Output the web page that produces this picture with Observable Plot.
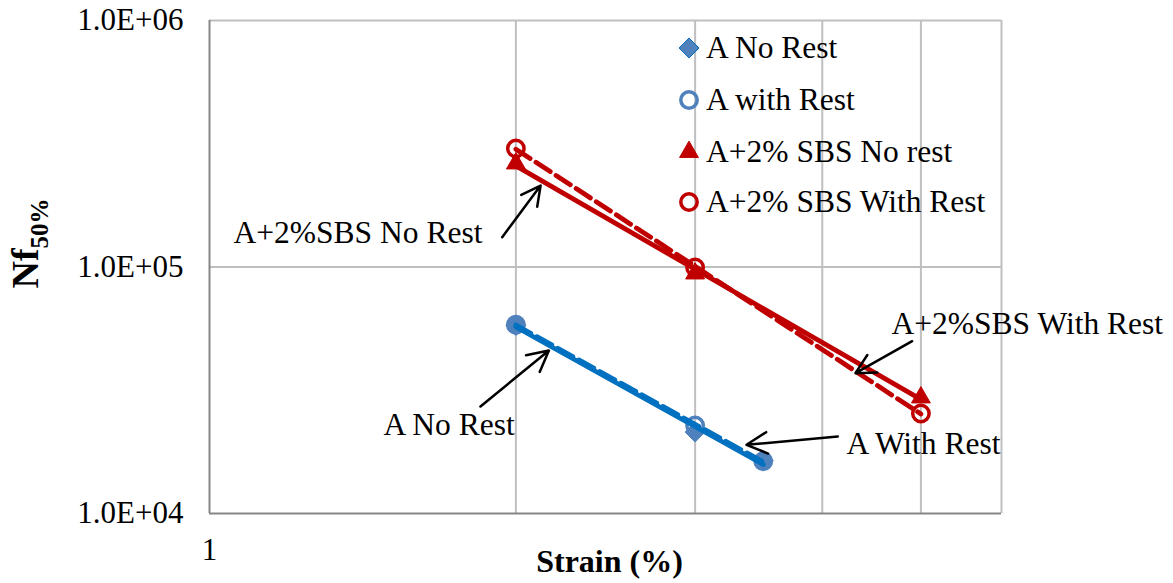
<!DOCTYPE html>
<html>
<head>
<meta charset="utf-8">
<script src="https://cdn.jsdelivr.net/npm/d3@7"></script>
<script src="https://cdn.jsdelivr.net/npm/@observablehq/plot@0.6"></script>
<style>
  html, body { margin: 0; padding: 0; background: #fff; }
  #wrap { position: relative; width: 1173px; height: 583px; font-family: 'Liberation Serif', 'Times New Roman', serif; }
  .legrow { position: absolute; left: 672px; height: 36px; transform: translateY(-50%); display: flex; align-items: center; font-size: 31.5px; line-height: 1.15; color: #000; white-space: nowrap; }
  .legrow svg { width: 34px; height: 36px; flex: none; }
</style>
</head>
<body>
<div id="wrap"></div>
<script>
// ---- data ----
const strainA = [2, 3, 3.5];
const strainSBS = [2, 3, 5];
const aNoRest = [57900, 21400, 16400];
const aWithRest = [58300, 22750, 16300];
const sbsNoRest = [263000, 94100, 29560];
const sbsWithRest = [302500, 99500, 25450];

const seriesNames = ["A No Rest", "A with Rest", "A+2% SBS No rest", "A+2% SBS With Rest"];

const xTicks = [1];
const xTickLabels = ["1"];
const yTicks = [1e4, 1e5, 1e6];
const yTickLabels = ["1.0E+04", "1.0E+05", "1.0E+06"];
const xGrid = [2, 3, 4, 5, 6];
const yGrid = [1e5, 1e6];

const xTitle = "Strain (%)";

// annotations (data units)
const noteLabels = ["A+2%SBS No Rest", "A No Rest", "A+2%SBS With Rest", "A With Rest"];
const noteX = [1.056, 1.482, 4.679, 4.226];
const noteY = [138000, 22970, 58990, 19230];
const arrowX1 = [1.939, 1.846, 4.902, 4.143];
const arrowY1 = [132100, 27180, 50000, 20530];
const arrowX2 = [2.115, 2.155, 4.312, 3.370];
const arrowY2 = [214100, 45850, 37090, 19000];

// ---- build tables ----
const sets = [
  {name: seriesNames[0], xs: strainA, ys: aNoRest},
  {name: seriesNames[1], xs: strainA, ys: aWithRest},
  {name: seriesNames[2], xs: strainSBS, ys: sbsNoRest},
  {name: seriesNames[3], xs: strainSBS, ys: sbsWithRest}
];
const pts = sets.map(s => s.xs.map((x, i) => ({series: s.name, x, y: s.ys[i]})));

// power-law trendline (least squares in log-log space), like Excel
function powerFit(xs, ys) {
  const lx = xs.map(Math.log10), ly = ys.map(Math.log10);
  const mx = d3.mean(lx), my = d3.mean(ly);
  const b = d3.sum(lx, (v, i) => (v - mx) * (ly[i] - my)) / d3.sum(lx, v => (v - mx) ** 2);
  const a = my - b * mx;
  const ends = d3.extent(xs);
  return ends.map(x => ({x, y: Math.pow(10, a + b * Math.log10(x))}));
}
const trends = sets.map(s => powerFit(s.xs, s.ys));

const notes = noteLabels.map((t, i) => ({t, x: noteX[i], y: noteY[i]}));
const arrows = noteLabels.map((t, i) => ({x1: arrowX1[i], y1: arrowY1[i], x2: arrowX2[i], y2: arrowY2[i]}));

const BLUE_M = "#4F81BD", BLUE_L = "#0070C0", RED = "#C00000";
const FONT = "'Liberation Serif', 'Times New Roman', serif";
const R_DIAMOND = 9, R_CIRCLE = 8.2, R_TRI = 7;

const chart = Plot.plot({
  width: 1173,
  height: 583,
  marginLeft: 209,
  marginRight: 172,
  marginTop: 20,
  marginBottom: 70,
  x: {type: "log", domain: [1, 6]},
  y: {type: "log", domain: [1e4, 1e6]},
  style: {fontFamily: FONT, fontSize: "31px", background: "white", color: "black", overflow: "visible"},
  marks: [
    Plot.gridX(xGrid, {stroke: "#BFBFBF", strokeOpacity: 1, strokeWidth: 2}),
    Plot.gridY(yGrid, {stroke: "#BFBFBF", strokeOpacity: 1, strokeWidth: 2}),
    Plot.ruleX([1], {stroke: "#868686", strokeWidth: 2}),
    Plot.ruleY([1e4], {stroke: "#868686", strokeWidth: 2}),
    Plot.axisX(xTicks, {tickSize: 0, tickPadding: 24, fontSize: 31, label: null,
      tickFormat: d => xTickLabels[xTicks.indexOf(d)]}),
    Plot.axisY(yTicks, {tickSize: 0, tickPadding: 26, fontSize: 31, label: null,
      tickFormat: d => yTickLabels[yTicks.indexOf(d)]}),
    // markers
    Plot.dot(pts[0], {x: "x", y: "y", symbol: "diamond2", r: R_DIAMOND, fill: BLUE_M, stroke: BLUE_M, strokeWidth: 1}),
    Plot.dot(pts[1], {x: "x", y: "y", symbol: "circle", r: R_CIRCLE, fill: "none", stroke: BLUE_M, strokeWidth: 3.5}),
    Plot.dot(pts[2], {x: "x", y: "y", symbol: "triangle", r: R_TRI, fill: RED, stroke: RED, strokeWidth: 1}),
    Plot.dot(pts[3], {x: "x", y: "y", symbol: "circle", r: R_CIRCLE, fill: "none", stroke: RED, strokeWidth: 3.5}),
    // trendlines
    Plot.line(trends[0], {x: "x", y: "y", stroke: BLUE_L, strokeWidth: 4.8}),
    Plot.line(trends[1], {x: "x", y: "y", stroke: BLUE_L, strokeWidth: 4.8, strokeDasharray: "17 7"}),
    Plot.line(trends[2], {x: "x", y: "y", stroke: RED, strokeWidth: 4.8}),
    Plot.line(trends[3], {x: "x", y: "y", stroke: RED, strokeWidth: 4.8, strokeDasharray: "17 7"}),
    // annotations
    Plot.arrow(arrows, {x1: "x1", y1: "y1", x2: "x2", y2: "y2", bend: 0, headLength: 14, headAngle: 55, stroke: "black", strokeWidth: 2.5}),
    Plot.text(notes, {x: "x", y: "y", text: "t", textAnchor: "start", lineAnchor: "middle", fontSize: 31.5, fill: "black"}),
    Plot.text([xTitle], {frameAnchor: "bottom", dx: 4, dy: 58, fontSize: 32, fontWeight: "bold", fill: "black"})
  ]
});

// y-axis title with subscript
const svg = d3.select(chart);
const yt = svg.append("text")
  .attr("transform", "translate(38,243.5) rotate(-90)")
  .attr("text-anchor", "middle")
  .attr("font-weight", "bold")
  .attr("font-family", FONT)
  .attr("fill", "black");
yt.append("tspan").attr("font-size", 38).text("Nf");
yt.append("tspan").attr("font-size", 25).attr("dy", 10).text("50%");

const wrap = document.getElementById("wrap");
wrap.appendChild(chart);

// legend (inside plot area, top right)
const legSpec = [
  {name: seriesNames[0], type: d3.symbolDiamond2, r: R_DIAMOND, fill: BLUE_M, stroke: BLUE_L, sw: 1},
  {name: seriesNames[1], type: d3.symbolCircle, r: R_CIRCLE, fill: "none", stroke: BLUE_M, sw: 3.5},
  {name: seriesNames[2], type: d3.symbolTriangle, r: R_TRI, fill: RED, stroke: RED, sw: 1},
  {name: seriesNames[3], type: d3.symbolCircle, r: R_CIRCLE, fill: "none", stroke: RED, sw: 3.5}
];
const legY = [48.3, 100, 151.7, 201.7];
legSpec.forEach((s, i) => {
  const row = document.createElement("div");
  row.className = "legrow";
  row.style.top = legY[i] + "px";
  const ic = d3.create("svg").attr("viewBox", "0 0 34 36");
  ic.append("path")
    .attr("transform", "translate(17,18)")
    .attr("d", d3.symbol(s.type, Math.PI * s.r * s.r)())
    .attr("fill", s.fill).attr("stroke", s.stroke).attr("stroke-width", s.sw);
  row.appendChild(ic.node());
  const sp = document.createElement("span");
  sp.textContent = s.name;
  row.appendChild(sp);
  wrap.appendChild(row);
});
</script>
</body>
</html>
